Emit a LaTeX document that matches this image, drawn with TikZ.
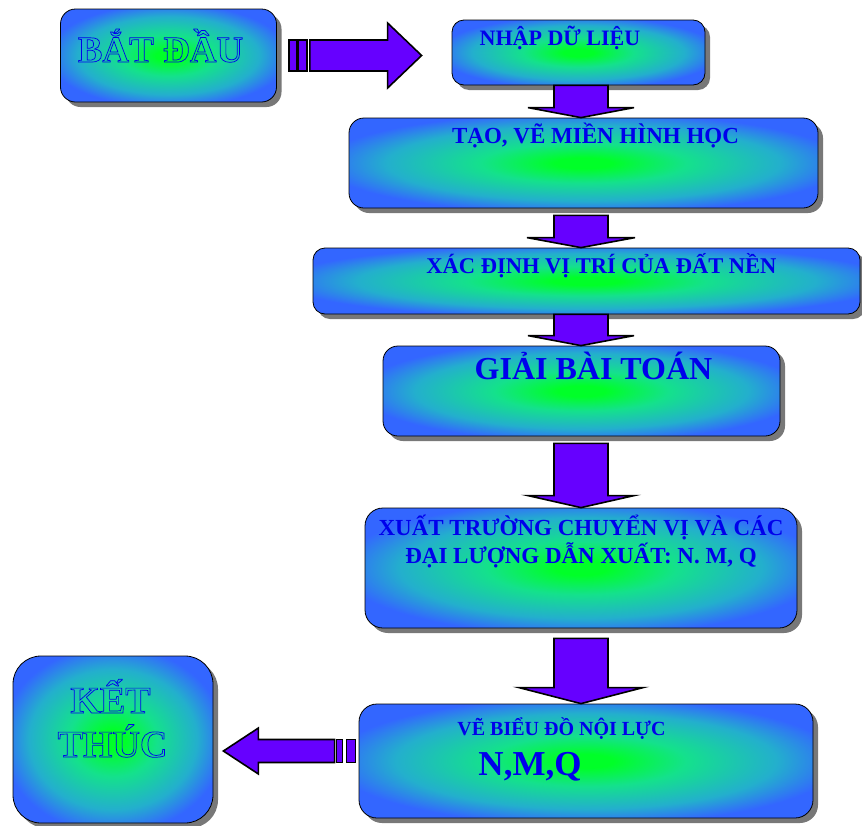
\documentclass[tikz,border=0pt]{standalone}
\usepackage{fontspec}
\setmainfont{Liberation Serif}
\usetikzlibrary{calc,shadows}

\definecolor{xanhvien}{RGB}{51,102,255}
\definecolor{xanhla}{RGB}{0,255,40}
\definecolor{xanhgiua}{RGB}{20,225,140}
\definecolor{xanhngoc}{RGB}{35,175,205}
\definecolor{chuxanh}{RGB}{0,0,235}
\definecolor{tim}{RGB}{102,0,255}
\definecolor{bong}{RGB}{120,120,120}

\pgfdeclareradialshading{nenkhoi}{\pgfpoint{0bp}{0bp}}{%
  color(0bp)=(xanhla); color(3bp)=(xanhla); color(11bp)=(xanhgiua);
  color(21bp)=(xanhngoc); color(28bp)=(xanhvien); color(100bp)=(xanhvien)}

% chu rong (chi ve vien)
\newcommand{\chuvien}[1]{\special{pdf:literal direct 1 Tr 0.7 w 0 0 0.92 RG}#1\special{pdf:literal direct 0 Tr}}

% mui ten dung giua hai khoi
\newcommand{\muitenxuong}[5]{%
  \path[muiten] let \p1=(#1.south), \p2=(#2.north) in
    (554pt,\y1-#3pt) -- (608pt,\y1-#3pt) -- (608pt,\y2+#4pt) -- (581pt+#5pt,\y2+#4pt)
    -- (581pt,\y2) -- (581pt-#5pt,\y2+#4pt) -- (554pt,\y2+#4pt) -- cycle;}

\begin{document}
\begin{tikzpicture}[x=1pt,y=-1pt]
	\tikzstyle{khoi}=[draw=black,line width=0.8pt,shading=nenkhoi,inner sep=0pt,
		drop shadow={shadow xshift=5pt,shadow yshift=-5pt,fill=bong,opacity=1}];
	\tikzstyle{muiten}=[draw=black,fill=tim,line width=1.6pt,line join=miter];
	\tikzstyle{chu}=[text=chuxanh,font=\bfseries,inner sep=0pt,anchor=base];
	\useasboundingbox[fill=white] (0,0) rectangle (862,825);

	% cac khoi
	\node[khoi,rounded corners=15pt,minimum width=216pt,minimum height=93pt] (batdau) at (168.5,55.5) {};
	\node[khoi,rounded corners=12pt,minimum width=253pt,minimum height=65pt] (nhap) at (578.5,52.5) {};
	\node[khoi,rounded corners=15pt,minimum width=469pt,minimum height=90pt] (tao) at (583.5,163) {};
	\node[khoi,rounded corners=12pt,minimum width=547pt,minimum height=66pt] (xacdinh) at (586.5,281) {};
	\node[khoi,rounded corners=15pt,minimum width=397pt,minimum height=90pt] (giai) at (581.5,391) {};
	\node[khoi,rounded corners=18pt,minimum width=432pt,minimum height=120pt] (xuat) at (581,568) {};
	\node[khoi,rounded corners=18pt,minimum width=454pt,minimum height=114pt] (vebd) at (586,761) {};
	\node[khoi,rounded corners=28pt,minimum width=200pt,minimum height=167pt] (ketthuc) at (113,739.5) {};

	% mui ten
	\muitenxuong{nhap}{tao}{0}{10}{53}
	\muitenxuong{tao}{xacdinh}{7}{10}{54}
	\muitenxuong{xacdinh}{giai}{0}{10}{53}
	\muitenxuong{giai}{xuat}{7}{12}{53}
	\muitenxuong{xuat}{vebd}{10}{16}{62}

	\path[muiten] let \p1=(batdau.east) in
		(\x1+12pt,\y1+15.5pt) rectangle (\x1+20pt,\y1-15.5pt)
		(\x1+21pt,\y1+15.5pt) rectangle (\x1+30pt,\y1-15.5pt);
	\path[muiten] let \p1=(batdau.east), \p2=(nhap.west) in
		(\x1+33pt,\y1+15.5pt) -- (\x2-64pt,\y1+15.5pt) -- (\x2-64pt,\y1+32.5pt)
		-- (\x2-30pt,\y1) -- (\x2-64pt,\y1-32.5pt) -- (\x2-64pt,\y1-15.5pt)
		-- (\x1+33pt,\y1-15.5pt) -- cycle;

	\path[muiten] let \p1=(vebd.west) in
		(\x1-22pt,\y1+21.5pt) rectangle (\x1-16pt,\y1-1.5pt)
		(\x1-12pt,\y1+21.5pt) rectangle (\x1-3pt,\y1-1.5pt);
	\path[muiten] let \p1=(vebd.west), \p2=(ketthuc.east) in
		(\x1-24pt,\y1+21.5pt) -- (\x2+45pt,\y1+21.5pt) -- (\x2+45pt,\y1+33pt)
		-- (\x2+10pt,\y1+10pt) -- (\x2+45pt,\y1-13pt) -- (\x2+45pt,\y1-1.5pt)
		-- (\x1-24pt,\y1-1.5pt) -- cycle;

	% chu
	\node[chu,font=\bfseries\fontsize{37}{40}\selectfont] (tbatdau) at (160.5,62) {\chuvien{BẮT ĐẦU}};
	\node[chu,font=\bfseries\fontsize{22}{26}\selectfont] (tnhap) at (560,45) {NHẬP DỮ LIỆU};
	\node[chu,font=\bfseries\fontsize{23}{26}\selectfont] (ttao) at (595.5,143) {TẠO, VẼ MIỀN HÌNH HỌC};
	\node[chu,font=\bfseries\fontsize{22.5}{26}\selectfont] (txacdinh) at (601.5,273) {XÁC ĐỊNH VỊ TRÍ CỦA ĐẤT NỀN};
	\node[chu,font=\bfseries\fontsize{32}{36}\selectfont] (tgiai) at (593.5,379) {GIẢI BÀI TOÁN};
	\node[chu,font=\bfseries\fontsize{23}{26}\selectfont] (txuat1) at (581,535) {XUẤT TRƯỜNG CHUYỂN VỊ VÀ CÁC};
	\node[chu,font=\bfseries\fontsize{23}{26}\selectfont] (txuat2) at (581,563) {ĐẠI LƯỢNG DẪN XUẤT: N. M, Q};
	\node[chu,font=\bfseries\fontsize{20}{24}\selectfont] (tvebd1) at (561.5,735) {VẼ BIỂU ĐỒ NỘI LỰC};
	\node[chu,font=\bfseries\fontsize{35}{40}\selectfont] (tvebd2) at (530,775) {N,M,Q};
	\node[chu,font=\bfseries\fontsize{38}{42}\selectfont] (tket) at (110.5,713) {\chuvien{KẾT}};
	\node[chu,font=\bfseries\fontsize{38}{42}\selectfont] (tthuc) at (112.5,757) {\chuvien{THÚC}};
\end{tikzpicture}
\end{document}
